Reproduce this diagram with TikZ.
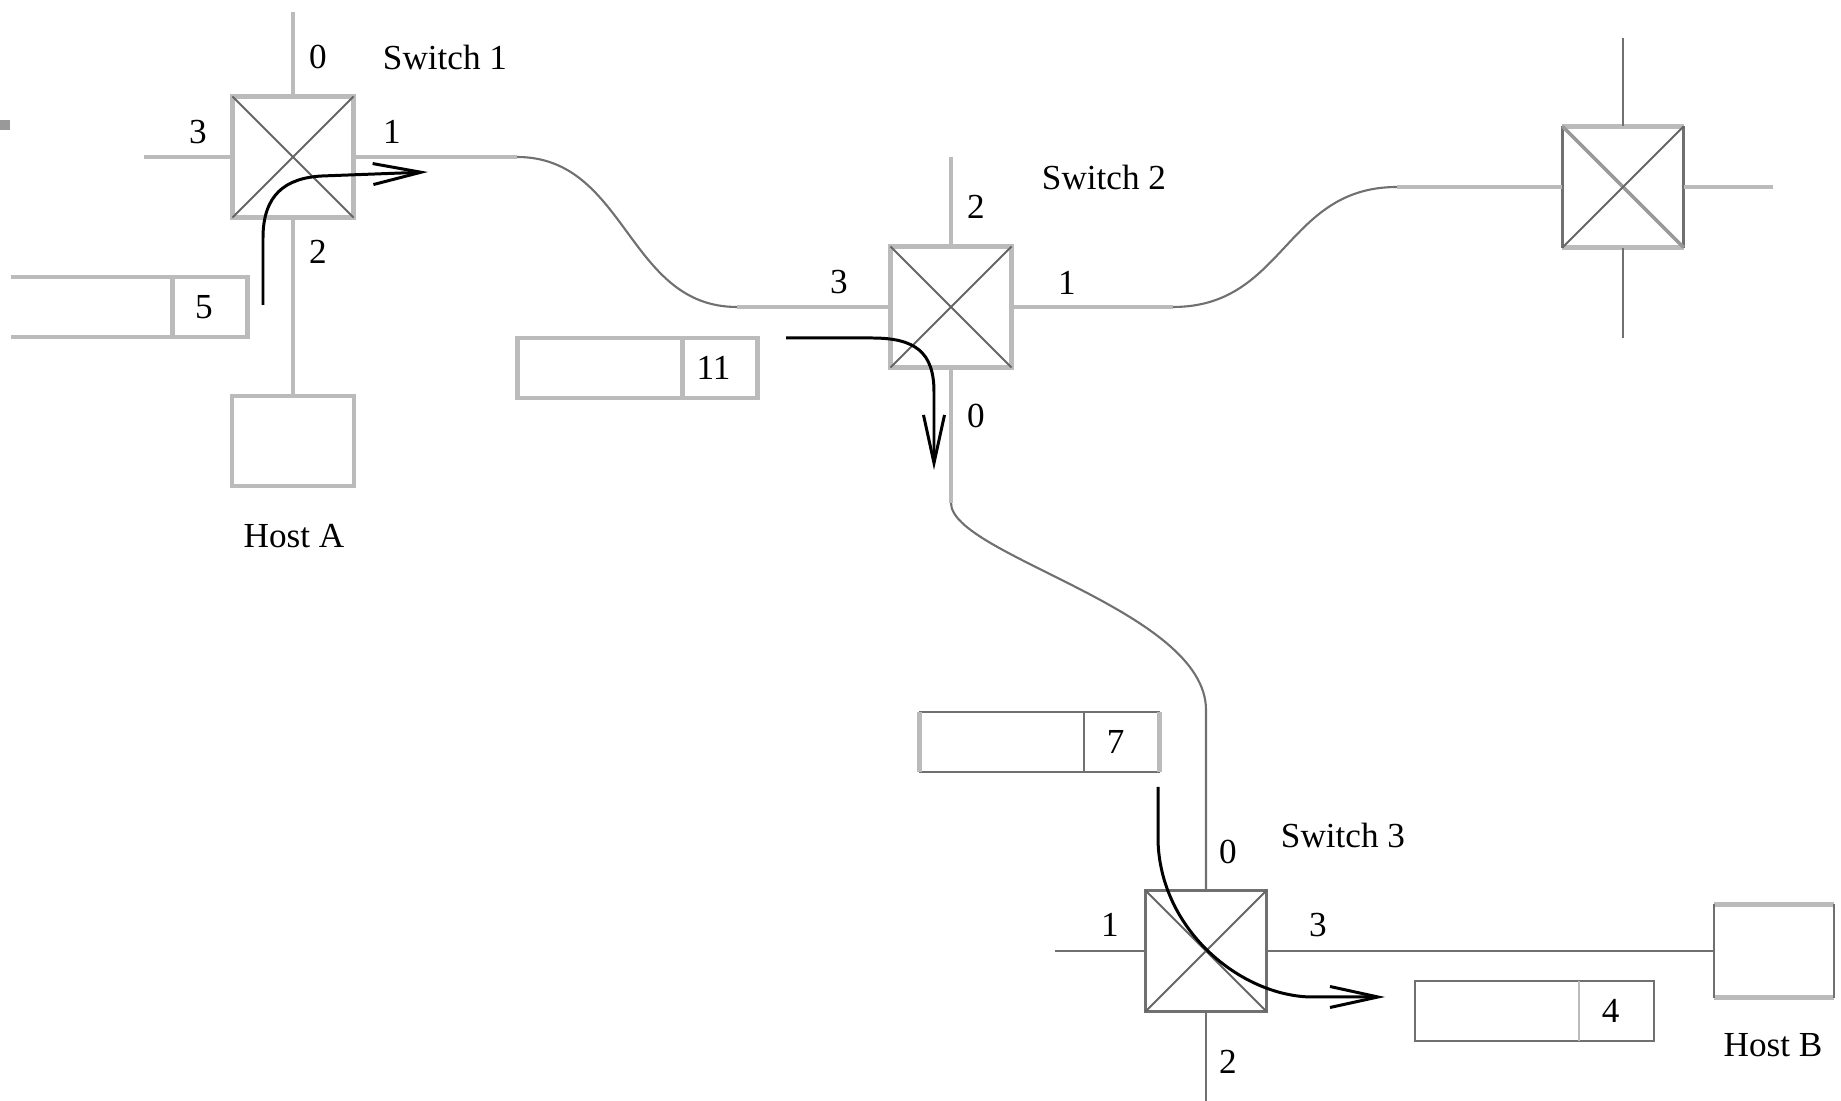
\documentclass[tikz,border=0pt]{standalone}
\usepackage{fontspec}
\setmainfont{Liberation Serif}
\usetikzlibrary{arrows.meta,positioning}
\definecolor{lgray}{HTML}{BBBBBB}
\definecolor{dgray}{HTML}{707070}
\definecolor{xgray}{HTML}{666666}
\definecolor{mgray}{HTML}{999999}

\tikzset{
  wire/.style={draw=lgray, line width=1.4pt},
  thinwire/.style={draw=dgray, line width=0.6pt},
  xline/.style={draw=xgray, line width=0.55pt},
  route/.style={draw=black, line width=0.85pt, -{Straight Barb[length=4.8mm,width=2.1mm]}},
  swbox/.style={rectangle, minimum size=1.21cm, inner sep=0pt, outer sep=0pt},
  hostbox/.style={rectangle, inner sep=0pt, outer sep=0pt},
  cell/.style={rectangle, minimum width=0.75cm, minimum height=0.6cm, inner sep=0pt, outer sep=0pt, font=\fontsize{10}{12}\selectfont, execute at begin node={\hspace*{-0.12cm}}},
  pktbody/.style={rectangle, minimum width=1.64cm, minimum height=0.6cm, inner sep=0pt, outer sep=0pt},
  lab/.style={font=\fontsize{10}{12}\selectfont, inner sep=0pt}
}

\begin{document}
\begin{tikzpicture}[x=0.01cm, y=-0.01cm]
    \useasboundingbox (0,0) rectangle (1841,1101);
    \fill[mgray] (0,120) rectangle (10,130);

    % switches
    \node[swbox, wire] (sw1) at (293,157) {};
    \node[swbox, wire] (sw2) at (951,307) {};
    \node[swbox, thinwire] (sw3) at (1206,951) {};
    \node[swbox] (sw4) at (1623,187) {};
    \draw[wire] (sw4.north west) -- (sw4.north east) (sw4.south west) -- (sw4.south east);
    \draw[thinwire] (sw4.north west) -- (sw4.south west) (sw4.north east) -- (sw4.south east);
    \foreach \s in {sw1,sw2,sw3} {\draw[xline] (\s.north west) -- (\s.south east) (\s.north east) -- (\s.south west);}
    \draw[xline, draw=mgray, line width=1pt] (sw4.north west) -- (sw4.south east);
    \draw[xline] (sw4.north east) -- (sw4.south west);

    % hosts
    \node[hostbox, wire, minimum width=1.22cm, minimum height=0.9cm] (hostA) at (293,441) {};
    \node[hostbox, minimum width=1.2cm, minimum height=0.93cm] (hostB) at (1774,951) {};
    \draw[wire] (hostB.north west) -- (hostB.north east) (hostB.south west) -- (hostB.south east);
    \draw[thinwire] (hostB.north west) -- (hostB.south west) (hostB.north east) -- (hostB.south east);

    % free port ends
    \coordinate (s1n) at (293,12);
    \coordinate (s1w) at (144,157);
    \coordinate (s2n) at (951,157);
    \coordinate (s3w) at (1055,951);
    \coordinate (s3s) at (1206,1101);
    \coordinate (s4n) at (1623,38);
    \coordinate (s4s) at (1623,338);
    \coordinate (s4e) at (1773,187);

    \draw[wire] (sw1.north) -- (s1n);
    \draw[wire] (sw1.west) -- (s1w);
    \draw[wire] (sw1.south) -- (hostA.north);
    \draw[wire] (sw2.north) -- (s2n);
    \draw[thinwire] (sw3.west) -- (s3w);
    \draw[thinwire] (sw3.south) -- (s3s);
    \draw[thinwire] (sw3.east) -- (hostB.west);
    \draw[thinwire] (sw4.north) -- (s4n);
    \draw[thinwire] (sw4.south) -- (s4s);
    \draw[wire] (sw4.east) -- (s4e);

    % links
    \coordinate (k1a) at (517,157);
    \coordinate (k1b) at (737,307);
    \draw[wire] (sw1.east) -- (k1a);
    \draw[thinwire] (k1a) .. controls (627,157) and (627,307) .. (k1b);
    \draw[wire] (k1b) -- (sw2.west);

    \coordinate (k2a) at (1173,307);
    \coordinate (k2b) at (1397,187);
    \draw[wire] (sw2.east) -- (k2a);
    \draw[thinwire] (k2a) .. controls (1285,307) and (1285,187) .. (k2b);
    \draw[wire] (k2b) -- (sw4.west);

    \coordinate (k3a) at (951,503);
    \coordinate (k3b) at (1206,710);
    \draw[wire] (sw2.south) -- (k3a);
    \draw[thinwire] (k3a) .. controls (951,555) and (1206,610) .. (k3b) -- (sw3.north);

    % packets
    \node[cell, wire] (pkt5) at (210,307) {5};
    \node[pktbody, left=0pt of pkt5, minimum width=1.61cm] (pkt5b) {};
    \draw[wire] (pkt5b.north west) -- (pkt5b.north east) (pkt5b.south west) -- (pkt5b.south east);

    \node[pktbody, wire] (pkt11b) at (600,368) {};
    \node[cell, wire, right=0pt of pkt11b] (pkt11) {11};

    \node[pktbody, thinwire] (pkt7b) at (1002,742) {};
    \node[cell, thinwire, right=0pt of pkt7b] (pkt7) {7};
    \draw[wire] (pkt7b.north west) -- (pkt7b.south west) (pkt7.north east) -- (pkt7.south east);

    \node[pktbody, thinwire] (pkt4b) at (1497,1011) {};
    \node[cell, thinwire, right=0pt of pkt4b] (pkt4) {4};
    \draw[draw=lgray, line width=0.8pt] (pkt4.north west) -- (pkt4.south west);

    % routes
    \coordinate (r1a) at (263,305);
    \coordinate (r1b) at (428,172);
    \draw[route] (r1a) -- (263,238) .. controls (263,195) and (285,178) .. (322,176) -- (r1b);
    \coordinate (r2a) at (786,338);
    \coordinate (r2b) at (934,470);
    \draw[route] (r2a) -- (872,338) .. controls (915,338) and (934,352) .. (934,392) -- (r2b);
    \coordinate (r3a) at (1158,787);
    \coordinate (r3b) at (1385,997);
    \draw[route] (r3a) -- (1158,840) .. controls (1160,930) and (1240,995) .. (1310,997) -- (r3b);

    % labels
    \node[lab] (n1) at (445,57) {Switch 1};
    \node[lab] (n2) at (1104,177) {Switch 2};
    \node[lab] (n3) at (1343,835) {Switch 3};
    \node[lab] (nA) at (294,536) {Host A};
    \node[lab] (nB) at (1773,1045) {Host B};
    \node[lab] (p10) at (318,57) {0};
    \node[lab] (p13) at (198,132) {3};
    \node[lab] (p11) at (392,132) {1};
    \node[lab] (p12) at (318,252) {2};
    \node[lab] (p22) at (976,207) {2};
    \node[lab] (p23) at (839,282) {3};
    \node[lab] (p21) at (1067,283) {1};
    \node[lab] (p20) at (976,416) {0};
    \node[lab] (p30) at (1228,852) {0};
    \node[lab] (p31) at (1110,925) {1};
    \node[lab] (p33) at (1318,925) {3};
    \node[lab] (p32) at (1228,1062) {2};
\end{tikzpicture}
\end{document}
